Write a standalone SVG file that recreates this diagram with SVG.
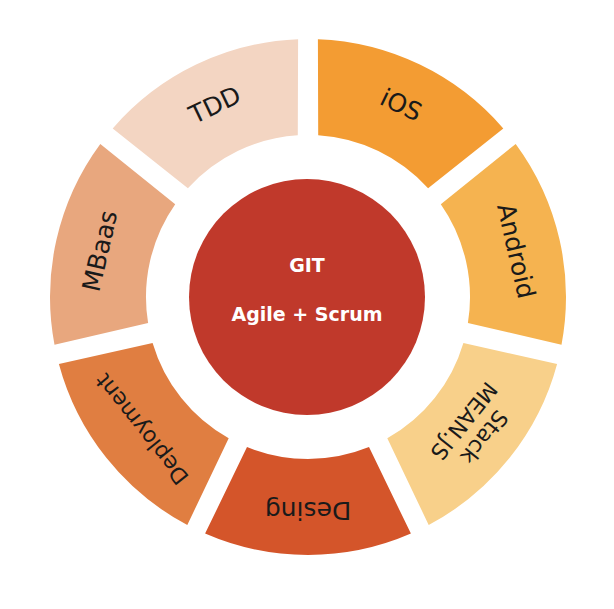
<svg xmlns="http://www.w3.org/2000/svg" width="614" height="609" viewBox="0 0 614 609">
<style>
.lbl{font-family:"DejaVu Sans","Liberation Sans",sans-serif;font-size:25px;fill:#1a1a1a;text-anchor:middle;dominant-baseline:central}
.ctr{font-family:"DejaVu Sans","Liberation Sans",sans-serif;font-size:19px;font-weight:bold;fill:#fff;text-anchor:middle;dominant-baseline:central}
</style>
<rect width="614" height="609" fill="#fff"/>
<g id="ios"><path d="M317.9 39.2 A258 258 0 0 1 503.3 128.4 L428.1 188.3 A162 162 0 0 0 318.2 135.3 Z" fill="#F39C33"/><text class="lbl" transform="translate(401,105) rotate(25.71)">iOS</text></g>
<g id="android"><path d="M515.7 143.9 A258 258 0 0 1 561.5 344.7 L467.9 323.1 A162 162 0 0 0 440.8 204.2 Z" fill="#F5B350"/><text class="lbl" transform="translate(516,251) rotate(77.14)">Android</text></g>
<g id="stack"><path d="M557.1 364 A258 258 0 0 1 428.7 525 L387.3 438.3 A162 162 0 0 0 463.4 342.9 Z" fill="#F8D08A"/><g transform="translate(474,429) rotate(128.57)"><text class="lbl" y="-13" font-size="22" style="font-size:22px">Stack</text><text class="lbl" y="13" style="font-size:22px">MEAN.JS</text></g></g>
<g id="desing"><path d="M410.9 533.6 A258 258 0 0 1 205.1 533.6 L247 447.1 A162 162 0 0 0 369 447.1 Z" fill="#D4552A"/><text class="lbl" transform="translate(308,510) rotate(180)">Desing</text></g>
<g id="deployment"><path d="M187.3 525 A258 258 0 0 1 58.9 364 L152.6 342.9 A162 162 0 0 0 228.7 438.3 Z" fill="#E07E41"/><text class="lbl" transform="translate(142,429) rotate(231.43)" style="font-size:22px">Deployment</text></g>
<g id="mbaas"><path d="M54.5 344.7 A258 258 0 0 1 100.3 143.9 L175.2 204.2 A162 162 0 0 0 148.1 323.1 Z" fill="#E8A77E"/><text class="lbl" transform="translate(100,251) rotate(-77.14)">MBaas</text></g>
<g id="tdd"><path d="M112.7 128.4 A258 258 0 0 1 298.1 39.2 L297.8 135.3 A162 162 0 0 0 187.9 188.3 Z" fill="#F3D5C2"/><text class="lbl" transform="translate(215,105) rotate(-25.71)">TDD</text></g>
<g id="center"><circle cx="307" cy="297" r="118" fill="#C0392B"/><text class="ctr" x="307" y="265">GIT</text><text class="ctr" x="307" y="314">Agile + Scrum</text></g>
<g id="connectors"/>
</svg>
